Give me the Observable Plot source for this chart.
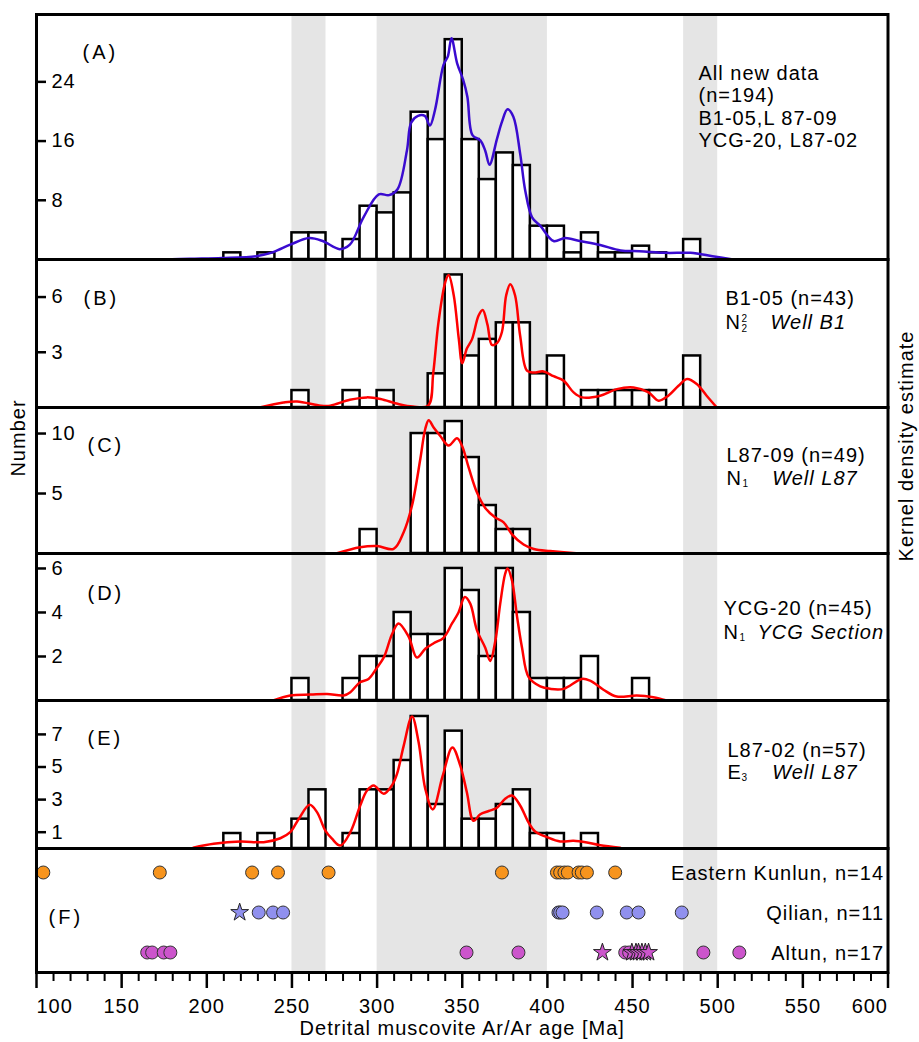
<!DOCTYPE html>
<html><head><meta charset="utf-8">
<script src="https://cdn.jsdelivr.net/npm/d3@7"></script>
<script src="https://cdn.jsdelivr.net/npm/@observablehq/plot@0.6"></script>
<style>
body{margin:0;background:#fff;}
#chart{position:relative;width:919px;height:1042px;font-family:"Liberation Sans",Arial,sans-serif;overflow:hidden;}
#chart svg{position:absolute;left:0;overflow:visible;background:transparent;}
.lab{position:absolute;font-size:20px;letter-spacing:1px;color:#000;white-space:nowrap;transform:translate(-50%,-50%) rotate(-90deg);}
</style></head><body><div id="chart"></div>
<script>
// ---------- data ----------
const ageDomain = [100, 600];
const binWidth = 10;
const bandRanges = [[250, 270], [300, 400], [480, 500]];

// (A) all new data
const binsA = [210,230,250,260,280,290,300,310,320,330,340,350,360,370,380,390,400,410,420,430,440,450,460,480];
const countsA = [0.9,0.9,3.6,3.6,2.7,7.2,6.3,9.0,19.9,16.2,29.7,16.2,10.8,14.4,12.7,4.5,4.5,0.9,3.6,0.9,0.9,1.8,0.9,2.7];
const kdeA = [[175,0],[190,0.1],[209,0.2],[229,0.45],[239,1.0],[249,2.0],[260,2.9],[268,2.5],[278,1.4],[284,2.0],[292,5.7],[301,8.8],[307,8.7],[312,9.5],[317.5,14.7],[320,18.5],[324,19.4],[328,19.4],[331,18.1],[334,20.2],[339,26.3],[341.5,27.4],[343.7,29.9],[347,26.5],[350.5,24.3],[353,22],[356,16.8],[360.6,16.1],[363.5,14.7],[366,12.8],[370.4,16.3],[373.3,18.6],[376.6,20.3],[380,19.3],[384,14.3],[387,9.3],[391,5.7],[396,4.5],[403.6,2.5],[410.4,2.9],[419,2.5],[431,1.95],[443,1.22],[454,1.13],[470,0.9],[484,0.9],[497,0.45],[509,0]];

// (B) B1-05
const binsB = [250,280,300,330,340,350,360,370,380,390,400,420,430,440,450,460,480];
const countsB = [0.92,0.92,0.92,1.83,7.2,2.8,3.7,4.6,4.6,1.83,2.8,0.92,0.92,0.92,0.92,0.92,2.8];
const kdeB = [[231,0],[245,0.27],[253,0.33],[267,0.1],[272.5,0.1],[284,0.42],[294,0.55],[302,0.46],[312,0.2],[321,0.05],[330,0.1],[333,1.9],[336,4.6],[340,6.8],[342,7.2],[345,6.1],[348,3.7],[350,2.4],[352.7,3.2],[355.7,3.7],[359.6,5.0],[362,5.3],[364.8,4.5],[367.4,3.4],[370.4,3.5],[373.3,4.1],[375.8,6.1],[378.2,6.7],[381,6.1],[384,3.9],[388,2.0],[392,1.9],[397.7,1.96],[403.6,1.7],[409.5,1.46],[415.4,0.82],[420.3,0.55],[431,0.64],[440.8,1.0],[450.6,1.09],[459.4,0.82],[465.3,0.37],[471,0.64],[477,1.18],[482,1.55],[487.7,1.28],[493.5,0.64],[499.5,0]];

// (C) L87-09
const binsC = [290,320,330,340,350,360,370,380];
const countsC = [2,10,10,11,8,4,2,2];
const kdeC = [[276,0],[290,0.52],[300,0.62],[309.7,0.39],[315.6,1.78],[320.5,4.0],[325.4,7.9],[328.3,10.4],[330.3,11.1],[333.2,10.5],[337.1,9.8],[342,9.0],[346.9,9.6],[349.8,9.0],[353.7,7.2],[358.6,5.1],[363.5,3.8],[369.4,3.0],[374.3,2.6],[379.2,1.6],[386,0.75],[392,0.38],[401.6,0.2],[415,0.05],[425,0]];

// (D) YCG-20
const binsD = [250,280,290,300,310,320,330,340,350,360,370,380,390,400,410,420,450];
const countsD = [1,1,2,2,4,3,3,6,5,2,6,4,1,1,1,2,1];
const kdeD = [[239,0],[249,0.23],[261,0.27],[270.6,0.3],[280.4,0.23],[284.3,0.38],[290,0.83],[295,0.98],[300,1.5],[304,1.97],[308.7,3.0],[312.6,3.5],[318.5,2.9],[323.4,1.95],[328.3,2.35],[333.2,2.6],[339,2.85],[344,3.5],[347.8,4.0],[351.5,4.7],[354.7,4.4],[358.6,3.2],[363.5,2.4],[366.4,1.8],[369.4,2.7],[372.3,4.4],[375.2,5.76],[376.6,6.0],[379.2,5.45],[382.2,3.8],[385.1,2.4],[389,1.06],[395.8,0.64],[401.6,0.53],[409.5,0.53],[420.2,0.98],[425.1,0.9],[432.9,0.49],[440.7,0.18],[452.5,0.23],[462.2,0.15],[470,0]];

// (E) L87-02
const binsE = [210,230,250,260,280,290,300,310,320,330,340,350,360,370,380,390,400,420];
const countsE = [0.92,0.92,1.8,3.6,0.92,3.6,3.6,5.4,8.1,2.7,7.2,1.8,1.8,2.7,3.6,0.92,0.92,0.92];
const kdeE = [[192,0.05],[204,0.29],[219.7,0.43],[233.4,0.39],[243.2,0.63],[249,1.0],[253.9,1.8],[260.4,2.68],[264.7,2.23],[269.6,1.1],[273.5,0.6],[278.4,0.18],[284.3,1.0],[290.1,2.64],[294.1,3.56],[298,3.87],[303.9,3.36],[308.7,3.87],[311.7,4.58],[315.6,6.3],[320.5,8.1],[324.4,6.5],[328.3,3.66],[332.7,2.4],[338.5,4.45],[344.2,6.2],[348.8,5.1],[352.7,3.45],[356.6,1.7],[360.6,2.1],[365.5,2.3],[370.4,2.5],[375.2,3.05],[379.2,3.25],[384,2.64],[388.9,1.6],[392.8,1.04],[399.7,0.7],[407.5,0.43],[415.3,0.47],[423.2,0.37],[431,0.2],[442.7,0.05]];

// (F) source regions
const regions = ["Eastern Kunlun", "Qilian", "Altun"];
const regionN = [14, 11, 17];
const kunlunAges = [104,172.4,226.6,241.8,271.5,373.3,405.6,407.5,410,412,418.3,420.2,423.2,439.8];
const qilianAges = [230.5,238.9,244.8,406.5,407.5,408.9,429,446.6,453.5,478.9];
const qilianStarAges = [219.3];
const altunAges = [165,167.9,174.7,178.6,352.5,383,445.7,448,491.6,512.7];
const altunStarAges = [432.3,449.6,452,453.5,455.5,457.5,459.4];
const regionColors = ["#f7941d", "#9090ee", "#cc55cc"];

const xMajorTicks = [100,150,200,250,300,350,400,450,500,550,600];
const xMinorTicks = d3.range(110, 600, 10).filter(d => d % 50 !== 0);

// ---------- layout ----------
const W = 919, ML = 36, MR = 31.5;
const chart = document.getElementById("chart");
const FONT = '"Liberation Sans", Arial, sans-serif';
const baseStyle = {fontFamily: FONT, fontSize: "20px", letterSpacing: "1px", overflow: "visible", background: "transparent", color: "black"};

function t(str, dx, dy, opts = {}) {
  return Plot.text([str], {text: d => d, frameAnchor: "top-left", dx, dy, textAnchor: "start", lineAnchor: "middle", fontSize: 20, ...opts});
}
function bandMark() {
  return Plot.rect(bandRanges, {x1: d => d[0], x2: d => d[1], fill: "#e5e5e5"});
}
function place(svg, top) {
  svg.style.top = top + "px";
  d3.select(svg).selectAll("text").each(function() {
    if (/^\([A-F]\)$/.test(this.textContent)) this.style.letterSpacing = "3px";
  });
  chart.appendChild(svg);
}

function histPanel({top, height, yMax, yTicks, bins, counts, kde, stroke, texts}) {
  const bars = bins.map((b, i) => ({x1: b, x2: b + binWidth, y: counts[i]}));
  const svg = Plot.plot({
    width: W, height, marginLeft: ML, marginRight: MR, marginTop: 0, marginBottom: 0,
    style: baseStyle,
    x: {domain: ageDomain, axis: null, label: null},
    y: {domain: [0, yMax], label: null},
    marks: [
      bandMark(),
      Plot.rectY(bars, {x1: "x1", x2: "x2", y: "y", fill: "white", stroke: "black", strokeWidth: 2.5}),
      Plot.line(kde, {x: d => d[0], y: d => d[1], stroke, strokeWidth: 2.5, curve: "catmull-rom"}),
      Plot.axisY(yTicks, {anchor: "left", label: null, tickSize: 10, dx: 10, tickPadding: -15, textAnchor: "start", strokeWidth: 2.5, fontSize: 20}),
      ...texts,
      Plot.frame({stroke: "black", strokeWidth: 3})
    ]
  });
  place(svg, top);
}

histPanel({top: 14, height: 245, yMax: 33.1, yTicks: [8, 16, 24], bins: binsA, counts: countsA, kde: kdeA, stroke: "#3a0bd0",
  texts: [t("(A)", 46, 38), t("All new data\n(n=194)\nB1-05,L 87-09\nYCG-20, L87-02", 662, 49, {lineAnchor: "top", lineHeight: 1.13})]});

histPanel({top: 259, height: 148, yMax: 8.04, yTicks: [3, 6], bins: binsB, counts: countsB, kde: kdeB, stroke: "#ff0000",
  texts: [t("(B)", 47, 39), t("B1-05 (n=43)", 689, 39), t("N", 689, 63.5), t("2", 705, 59, {fontSize: 10}), t("2", 705, 69, {fontSize: 10}),
    t("Well B1", 734, 63.5, {fontStyle: "italic"})]});

histPanel({top: 407, height: 146, yMax: 12.17, yTicks: [5, 10], bins: binsC, counts: countsC, kde: kdeC, stroke: "#ff0000",
  texts: [t("(C)", 51, 38), t("L87-09 (n=49)", 690, 48), t("N", 690, 71), t("1", 706, 76, {fontSize: 10}),
    t("Well L87", 735.7, 71, {fontStyle: "italic"})]});

histPanel({top: 553, height: 147, yMax: 6.68, yTicks: [2, 4, 6], bins: binsD, counts: countsD, kde: kdeD, stroke: "#ff0000",
  texts: [t("(D)", 51, 40), t("YCG-20 (n=45)", 687, 55), t("N", 687, 78.7), t("1", 703, 84, {fontSize: 10}),
    t("YCG Section", 721, 78.7, {fontStyle: "italic"})]});

histPanel({top: 700, height: 148, yMax: 9.08, yTicks: [1, 3, 5, 7], bins: binsE, counts: countsE, kde: kdeE, stroke: "#ff0000",
  texts: [t("(E)", 51, 38), t("L87-02 (n=57)", 691, 50), t("E", 691, 72), t("3", 705, 77, {fontSize: 10}),
    t("Well L87", 735.7, 72, {fontStyle: "italic"})]});

// panel F
const circles = [
  ...kunlunAges.map(a => ({region: regions[0], age: a})),
  ...qilianAges.map(a => ({region: regions[1], age: a})),
  ...altunAges.map(a => ({region: regions[2], age: a}))
];
const stars = [
  ...qilianStarAges.map(a => ({region: regions[1], age: a})),
  ...altunStarAges.map(a => ({region: regions[2], age: a}))
];
const svgF = Plot.plot({
  width: W, height: 194, marginLeft: ML, marginRight: MR, marginTop: 0, marginBottom: 70,
  style: baseStyle,
  x: {domain: ageDomain, label: null},
  y: {type: "point", domain: regions, range: [23, 104], padding: 0, axis: null, label: null},
  color: {domain: regions, range: regionColors},
  marks: [
    bandMark(),
    Plot.dot(circles, {x: "age", y: "region", r: 6.5, fill: "region", stroke: "#333", strokeWidth: 1}),
    Plot.dot(stars, {x: "age", y: "region", r: 5.6, symbol: "star", fill: "region", stroke: "#222", strokeWidth: 1}),
    Plot.text(regions, {y: d => d, text: (d, i) => `${d}, n=${regionN[i]}`, frameAnchor: "right", dx: -4, dy: 1, textAnchor: "end", fontSize: 20}),
    t("(F)", 12, 69),
    Plot.axisX(xMinorTicks, {anchor: "bottom", label: null, tickSize: 9, strokeWidth: 2, fill: "none"}),
    Plot.axisX(xMajorTicks, {anchor: "bottom", label: null, tickSize: 16, strokeWidth: 2.5, fill: "none"}),
    Plot.axisX(xMajorTicks.slice(1, -1), {anchor: "bottom", label: null, tickSize: 16, stroke: "none", tickPadding: 10, fontSize: 20}),
    Plot.axisX(xMajorTicks.slice(0, 1), {anchor: "bottom", label: null, tickSize: 16, stroke: "none", tickPadding: 10, fontSize: 20, textAnchor: "start"}),
    Plot.axisX(xMajorTicks.slice(-1), {anchor: "bottom", label: null, tickSize: 16, stroke: "none", tickPadding: 10, fontSize: 20, textAnchor: "end"}),
    Plot.text(["Detrital muscovite Ar/Ar age [Ma]"], {text: d => d, frameAnchor: "bottom", dy: 56, lineAnchor: "middle", fontSize: 20}),
    Plot.frame({stroke: "black", strokeWidth: 3})
  ]
});
place(svgF, 848);

// side titles
function sideLabel(txt, x, y) {
  const d = document.createElement("div");
  d.className = "lab";
  d.textContent = txt;
  d.style.left = x + "px";
  d.style.top = y + "px";
  chart.appendChild(d);
}
sideLabel("Number", 18, 438);
sideLabel("Kernel density estimate", 906, 446);
</script></body></html>
